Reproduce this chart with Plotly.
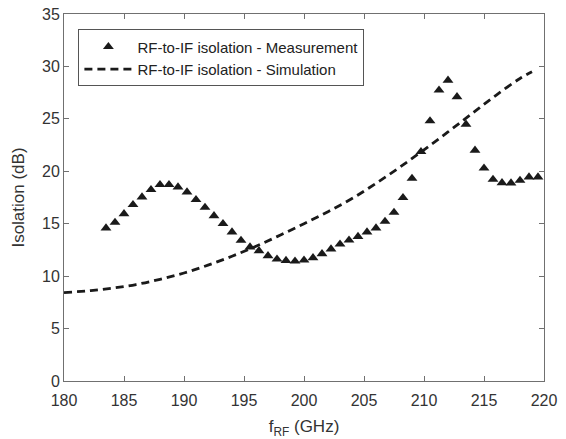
import plotly.graph_objects as go

# Measurement (RF-to-IF isolation), frequency in GHz, isolation in dB
meas_f = [183.5, 184.25, 185.0, 185.75, 186.5, 187.25, 188.0, 188.75, 189.5, 190.25,
          191.0, 191.75, 192.5, 193.25, 194.0, 194.75, 195.5, 196.25, 197.0, 197.75,
          198.5, 199.25, 200.0, 200.75, 201.5, 202.25, 203.0, 203.75, 204.5, 205.25,
          206.0, 206.75, 207.5, 208.25, 209.0, 209.75, 210.5, 211.25, 212.0, 212.75,
          213.5, 214.25, 215.0, 215.75, 216.5, 217.25, 218.0, 218.75, 219.5]
meas_db = [14.58, 15.12, 15.95, 16.81, 17.54, 18.24, 18.72, 18.72, 18.5, 18.02,
           17.29, 16.55, 15.76, 15.0, 14.2, 13.4, 12.77, 12.42, 11.94, 11.62,
           11.49, 11.43, 11.52, 11.75, 12.13, 12.58, 13.05, 13.43, 13.78, 14.2,
           14.58, 15.22, 16.08, 17.48, 19.32, 21.87, 24.8, 27.73, 28.68, 27.1,
           24.48, 22.0, 20.3, 19.22, 18.9, 18.88, 19.13, 19.45, 19.45]

# Simulation (RF-to-IF isolation)
sim_f = [180, 182, 184, 186, 188, 190, 192, 194, 196, 198, 200,
         202, 204, 206, 208, 210, 212, 214, 216, 218, 219]
sim_db = [8.43, 8.6, 8.85, 9.2, 9.7, 10.3, 11.05, 11.9, 12.85, 13.9, 15.0,
          16.15, 17.4, 18.85, 20.4, 22.05, 23.75, 25.5, 27.25, 28.85, 29.5]

x_ticks = [180, 185, 190, 195, 200, 205, 210, 215, 220]
y_ticks = [0, 5, 10, 15, 20, 25, 30, 35]

FONT = "Liberation Sans, Arial, sans-serif"
AXCOL = "#707070"

fig = go.Figure()
fig.add_trace(go.Scatter(
    x=meas_f, y=meas_db, mode="markers",
    name="RF-to-IF isolation - Measurement",
    marker=dict(symbol="triangle-up", size=9.5, color="#1a1a1a",
                line=dict(width=0)),
))
fig.add_trace(go.Scatter(
    x=sim_f, y=sim_db, mode="lines",
    name="RF-to-IF isolation - Simulation",
    line=dict(color="#1a1a1a", width=2.8, dash="8px,5px", shape="spline"),
))

axis_common = dict(
    showline=True, linecolor=AXCOL, linewidth=1, mirror="ticks",
    ticks="inside", ticklen=5, tickcolor=AXCOL, tickwidth=1,
    showgrid=False, zeroline=False, automargin=False,
    tickfont=dict(family=FONT, size=16, color="#333333"),
)

fig.update_layout(
    width=566, height=439,
    margin=dict(l=64, r=22, t=14, b=58, pad=0),
    paper_bgcolor="white", plot_bgcolor="white",
    font=dict(family=FONT, color="#333333"),
    showlegend=True,
    legend=dict(
        x=0.03, y=0.958, xanchor="left", yanchor="top",
        bgcolor="white", bordercolor="#555555", borderwidth=1,
        font=dict(family=FONT, size=15, color="#222222"),
        itemwidth=48, tracegroupgap=0,
    ),
    xaxis=dict(range=[180, 220], tickvals=x_ticks,
               ticktext=[str(v) for v in x_ticks],
               ticklabelstandoff=5,
               title=dict(text="f<sub>RF</sub> (GHz)", standoff=17,
                          font=dict(family=FONT, size=17, color="#333333")),
               **axis_common),
    yaxis=dict(range=[0, 35], tickvals=y_ticks,
               ticktext=[str(v) for v in y_ticks],
               title=dict(text="Isolation (dB)", standoff=13,
                          font=dict(family=FONT, size=17, color="#333333")),
               **axis_common),
)

fig.write_html("out.html")
